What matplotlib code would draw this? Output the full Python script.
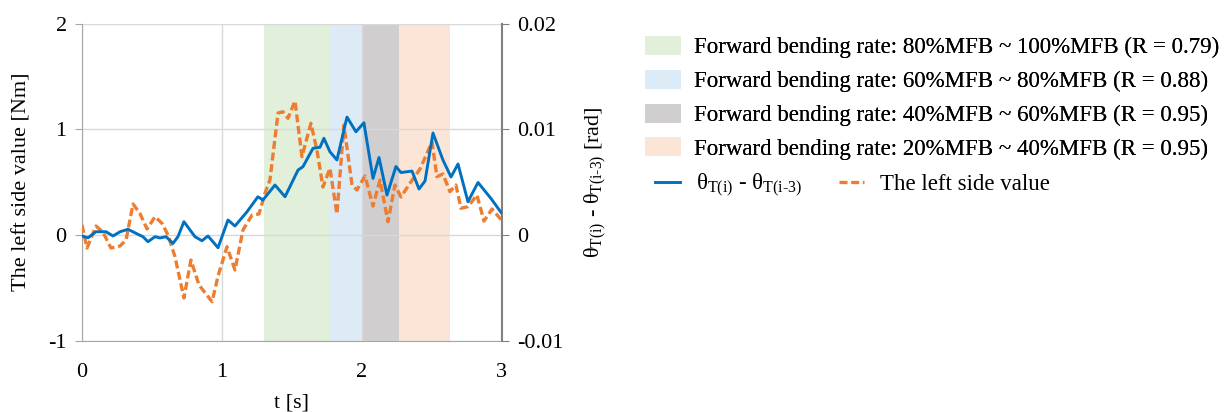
import matplotlib
matplotlib.use("Agg")
import matplotlib.pyplot as plt
from matplotlib.patches import Patch
from matplotlib.lines import Line2D
from matplotlib import font_manager

plt.rcParams['font.family'] = 'serif'
plt.rcParams['font.serif'] = ['Liberation Serif', 'DejaVu Serif']
plt.rcParams['mathtext.fontset'] = 'custom'
plt.rcParams['mathtext.rm'] = 'Liberation Serif'
plt.rcParams['mathtext.it'] = 'Liberation Serif:italic'
plt.rcParams['axes.unicode_minus'] = False
print(font_manager.findfont('Liberation Serif'))

# theta_T(i) - theta_T(i-3) [rad]  (right axis)
t_theta = [0.000, 0.043, 0.100, 0.172, 0.222, 0.272, 0.329, 0.386, 0.436, 0.472,
           0.522, 0.558, 0.601, 0.651, 0.686, 0.729, 0.808, 0.858, 0.901, 0.973,
           1.044, 1.094, 1.180, 1.258, 1.294, 1.380, 1.452, 1.545, 1.580, 1.652,
           1.702, 1.730, 1.773, 1.823, 1.895, 1.959, 2.016, 2.081, 2.124, 2.181,
           2.245, 2.281, 2.360, 2.410, 2.453, 2.510, 2.581, 2.639, 2.689, 2.760,
           2.832, 2.925, 3.000]
theta = [-0.00009, -0.00026, 0.00031, 0.00031, -0.00009, 0.00031, 0.00054, 0.00016,
         -0.00016, -0.00063, -0.00016, -0.00028, -0.00016, -0.00079, -0.00016, 0.00126,
         -0.00016, -0.00054, -0.00009, -0.00120, 0.00142, 0.00085, 0.00220, 0.00362,
         0.00331, 0.00473, 0.00362, 0.00615, 0.00646, 0.00820, 0.00830, 0.00915,
         0.00788, 0.00710, 0.01116, 0.00977, 0.01062, 0.00536, 0.00733, 0.00378,
         0.00648, 0.00591, 0.00605, 0.00435, 0.00511, 0.00965, 0.00710, 0.00549,
         0.00672, 0.00315, 0.00497, 0.00345, 0.00208]

# The left side value [Nm]  (left axis)
t_left = [0.000, 0.036, 0.100, 0.150, 0.207, 0.272, 0.315, 0.365, 0.415, 0.465,
          0.522, 0.572, 0.615, 0.665, 0.729, 0.779, 0.837, 0.930, 0.973, 1.037,
          1.094, 1.151, 1.216, 1.266, 1.309, 1.344, 1.402, 1.437, 1.473, 1.523,
          1.573, 1.637, 1.680, 1.723, 1.773, 1.823, 1.873, 1.931, 1.966, 2.024,
          2.081, 2.131, 2.188, 2.238, 2.281, 2.345, 2.417, 2.503, 2.538, 2.581,
          2.631, 2.674, 2.710, 2.760, 2.824, 2.875, 2.932, 3.000]
left_val = [0.095, -0.123, 0.085, 0.028, -0.123, -0.104, -0.047, 0.293, 0.203, 0.057,
            0.173, 0.111, 0.000, -0.205, -0.596, -0.237, -0.473, -0.631, -0.388, -0.111,
            -0.331, 0.047, 0.189, 0.199, 0.397, 0.520, 1.154, 1.166, 1.104, 1.268,
            0.741, 1.057, 0.804, 0.454, 0.631, 0.199, 1.041, 0.473, 0.426, 0.558,
            0.274, 0.520, 0.126, 0.473, 0.360, 0.489, 0.624, 0.880, 0.552, 0.577,
            0.410, 0.473, 0.253, 0.268, 0.378, 0.132, 0.246, 0.142]

# shaded ranges
span_start = [1.30, 1.775, 2.00, 2.27]
span_end = [1.775, 2.00, 2.27, 2.63]
span_colors = ['#e2efda', '#ddebf7', '#d0cece', '#fbe5d6']
span_labels = ['Forward bending rate: 80%MFB ~ 100%MFB (R = 0.79)',
               'Forward bending rate: 60%MFB ~ 80%MFB (R = 0.88)',
               'Forward bending rate: 40%MFB ~ 60%MFB (R = 0.95)',
               'Forward bending rate: 20%MFB ~ 40%MFB (R = 0.95)']

theta_label = r'$\mathrm{\theta_{T(i)}}$ - $\mathrm{\theta_{T(i\text{-}3)}}$'

fig = plt.figure(figsize=(12.31, 4.12), dpi=100)
ax = fig.add_axes([0.0666, 0.173, 0.3408, 0.7697])
ax2 = ax.twinx()

for s, e, c in zip(span_start, span_end, span_colors):
    ax.axvspan(s, e, color=c, lw=0, zorder=0)

ax.plot(t_left, left_val, color='#ed7d31', lw=2.4, dashes=(2.4, 1.1), zorder=3)
ax2.plot(t_theta, theta, color='#0070c0', lw=2.1, zorder=3)

ax.set_xlim(0, 3)
ax.set_ylim(-1, 2)
ax2.set_ylim(-0.01, 0.02)
ax.set_xticks([0, 1, 2, 3])
ax.set_yticks([-1, 0, 1, 2])
ax2.set_yticks([-0.01, 0, 0.01, 0.02])
ax2.set_yticklabels(['-0.01', '0', '0.01', '0.02'])

ax.grid(True, color='#d9d9d9', lw=1.0, zorder=1)
ax.set_axisbelow(True)

for a in (ax, ax2):
    a.spines['top'].set_visible(False)
ax.spines['left'].set_color('#a6a6a6')
ax.spines['bottom'].set_color('#a6a6a6')
ax.spines['right'].set_visible(False)
ax2.spines['left'].set_visible(False)
ax2.spines['bottom'].set_visible(False)
ax2.spines['right'].set_color('#808080')
ax2.spines['right'].set_linewidth(1.5)

ax.tick_params(axis='y', length=5, color='#a6a6a6', labelsize=16, pad=6)
ax.tick_params(axis='x', length=0, labelsize=16, pad=16)
ax2.tick_params(axis='y', length=5, color='#808080', labelsize=16, pad=6)

ax.set_xlabel('t [s]', fontsize=16, labelpad=8)
ax.set_ylabel('The left side value [Nm]', fontsize=16, labelpad=12)
ax2.set_ylabel(theta_label + ' [rad]', fontsize=16, labelpad=14)

patches = [Patch(facecolor=c, edgecolor='none') for c in span_colors]
leg1 = fig.legend(patches, span_labels, loc='upper left', bbox_to_anchor=(0.524, 0.913),
                  frameon=False, fontsize=16.5, handlelength=1.55, handleheight=0.9,
                  handletextpad=0.6, labelspacing=0.5, borderpad=0, borderaxespad=0)
fig.add_artist(leg1)

lines = [Line2D([], [], color='#0070c0', lw=2.1),
         Line2D([], [], color='#ed7d31', lw=2.4, dashes=(2.4, 1.1))]
fig.legend(lines, [theta_label, 'The left side value'], loc='center left',
           bbox_to_anchor=(0.532, 0.549), ncol=2, frameon=False, fontsize=16.5,
           handlelength=1.1, handletextpad=0.7, columnspacing=1.6,
           borderpad=0, borderaxespad=0)

fig.savefig('out.png', dpi=100)
